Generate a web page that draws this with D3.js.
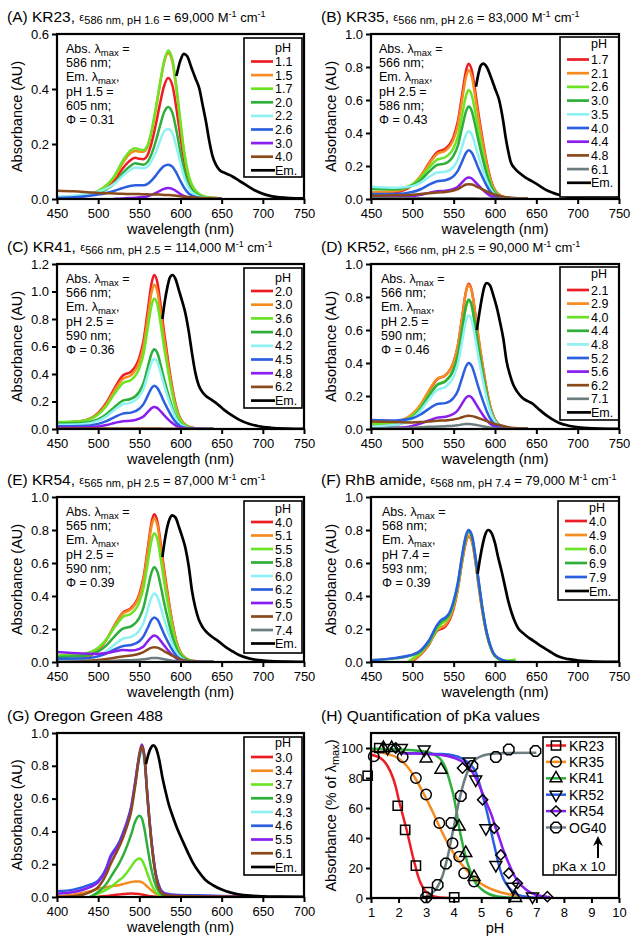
<!DOCTYPE html>
<html><head><meta charset="utf-8">
<script src="https://cdn.jsdelivr.net/npm/d3@7"></script>
<style>body{margin:0;background:#fff;} svg{display:block;font-family:"Liberation Sans",Arial,Helvetica,sans-serif;}</style>
</head><body>
<svg id="c" width="638" height="946"></svg>
<script>
// ---------------- DATA ----------------
const COL = {red:"#ee1d23", orange:"#f68b1f", lime:"#6be426", green:"#2eae3a", cyan:"#8ff1f1", blue:"#2c5fe0", purple:"#8a1ef0", brown:"#8a4a1b", grey:"#6e7e80"};

// (A) KR23
const wlA = [450,470,490,500,510,520,530,540,545,550,555,560,565,570,575,580,585,590,595,600,605,610,620,630,650];
const phA = ["1.1","1.5","1.7","2.0","2.2","2.6","3.0","4.0"];
const colA = ["red","orange","lime","green","cyan","blue","purple","brown"];
const absA = [
 [0.004,0.006,0.014,0.024,0.04,0.068,0.112,0.143,0.15,0.146,0.145,0.16,0.205,0.27,0.345,0.41,0.44,0.415,0.33,0.225,0.13,0.068,0.02,0.006,0.002],
 [0.004,0.007,0.016,0.028,0.047,0.08,0.132,0.168,0.175,0.172,0.172,0.19,0.245,0.325,0.415,0.495,0.53,0.50,0.40,0.27,0.155,0.08,0.024,0.007,0.002],
 [0.005,0.008,0.018,0.03,0.05,0.085,0.14,0.178,0.185,0.18,0.178,0.195,0.25,0.33,0.42,0.50,0.54,0.51,0.41,0.28,0.16,0.085,0.025,0.008,0.002],
 [0.005,0.008,0.015,0.022,0.035,0.058,0.095,0.122,0.13,0.127,0.125,0.135,0.165,0.21,0.265,0.315,0.335,0.315,0.25,0.17,0.1,0.052,0.016,0.005,0.002],
 [0.008,0.012,0.02,0.027,0.038,0.056,0.085,0.108,0.115,0.113,0.112,0.118,0.14,0.17,0.21,0.245,0.255,0.24,0.19,0.13,0.075,0.04,0.012,0.004,0.002],
 [0.004,0.006,0.012,0.016,0.022,0.03,0.04,0.048,0.05,0.05,0.05,0.055,0.068,0.085,0.105,0.12,0.125,0.118,0.095,0.065,0.038,0.02,0.006,0.002,0.001],
 [null,null,null,null,null,0.001,0.002,0.004,0.005,0.006,0.007,0.01,0.015,0.022,0.03,0.037,0.04,0.037,0.028,0.018,0.01,0.005,0.002,0.001,0],
 [0.03,0.028,0.024,0.022,0.021,0.02,0.019,0.018,0.018,0.018,0.017,0.017,0.016,0.016,0.016,0.015,0.015,0.014,0.012,0.01,0.008,0.007,0.005,0.003,0.002]
];
const emWlA = [595,600,604,608,613,618,623,627,631,635,639,643,647,655,663,671,679,690,703,720,750];
const emA = [0.447,0.505,0.528,0.52,0.48,0.44,0.40,0.34,0.28,0.21,0.155,0.125,0.107,0.093,0.082,0.067,0.052,0.032,0.016,0.006,0.002];

// shared wavelength grid for KR35, KR41, KR52, KR54
const wlKR = [450,480,500,510,520,530,540,550,555,560,565,568,572,576,580,585,590,595,600,610,620,640];

// (B) KR35
const phB = ["1.7","2.1","2.6","3.0","3.5","4.0","4.4","4.8","6.1"];
const colB = ["red","orange","lime","green","cyan","blue","purple","brown","grey"];
const absB = [
 [0.03,0.040,0.084,0.138,0.217,0.284,0.305,0.380,0.469,0.624,0.779,0.82,0.779,0.656,0.517,0.361,0.221,0.115,0.053,0.012,0.003,0],
 [0.04,0.048,0.086,0.137,0.211,0.273,0.293,0.363,0.447,0.594,0.741,0.78,0.741,0.624,0.491,0.343,0.211,0.109,0.051,0.012,0.003,0],
 [0.06,0.061,0.089,0.129,0.189,0.239,0.253,0.310,0.379,0.504,0.627,0.66,0.627,0.528,0.416,0.290,0.178,0.092,0.043,0.010,0.003,0],
 [0.06,0.059,0.081,0.114,0.164,0.206,0.216,0.264,0.322,0.428,0.532,0.56,0.532,0.448,0.353,0.246,0.151,0.078,0.036,0.008,0.002,0],
 [0.075,0.068,0.078,0.099,0.133,0.160,0.165,0.196,0.238,0.314,0.390,0.41,0.390,0.328,0.258,0.180,0.111,0.057,0.027,0.006,0.002,0],
 [0.03,0.030,0.042,0.059,0.086,0.108,0.114,0.139,0.170,0.224,0.280,0.295,0.280,0.236,0.186,0.130,0.080,0.041,0.019,0.004,0.001,0],
 [0.01,0.011,0.016,0.025,0.037,0.047,0.050,0.061,0.074,0.099,0.124,0.13,0.124,0.104,0.082,0.057,0.035,0.018,0.008,0.002,0.001,0],
 [0.02,0.022,0.026,0.03,0.035,0.04,0.043,0.052,0.06,0.075,0.088,0.09,0.088,0.08,0.07,0.058,0.046,0.035,0.026,0.014,0.008,0.003],
 [0.005,0.004,0.004,0.004,0.004,0.004,0.004,0.004,0.004,0.004,0.004,0.004,0.004,0.004,0.003,0.003,0.003,0.002,0.002,0.001,0.001,0]
];
const emWlB = [577,580,583,586,590,595,600,605,610,613,616,619,624,629,637,645,653,661,669,677,689,701,720,750];
const emB = [0.68,0.76,0.81,0.82,0.80,0.74,0.67,0.60,0.47,0.37,0.29,0.225,0.185,0.16,0.13,0.107,0.083,0.057,0.04,0.026,0.014,0.006,0.002,0.001];

// (C) KR41
const phC = ["2.0","3.0","3.6","4.0","4.2","4.5","4.8","6.2"];
const colC = ["red","orange","lime","green","cyan","blue","purple","brown"];
const absC = [
 [0.045,0.058,0.117,0.191,0.298,0.389,0.418,0.520,0.640,0.852,1.064,1.12,1.064,0.896,0.706,0.493,0.302,0.157,0.073,0.017,0.004,0],
 [0.045,0.057,0.111,0.180,0.281,0.365,0.392,0.488,0.601,0.799,0.998,1.05,0.998,0.84,0.662,0.462,0.284,0.147,0.068,0.016,0.004,0],
 [0.05,0.059,0.106,0.168,0.258,0.333,0.357,0.442,0.544,0.724,0.903,0.95,0.903,0.76,0.599,0.418,0.257,0.133,0.062,0.014,0.004,0],
 [0.04,0.044,0.070,0.107,0.161,0.206,0.220,0.271,0.333,0.442,0.551,0.58,0.551,0.464,0.365,0.255,0.157,0.081,0.038,0.009,0.002,0],
 [0.03,0.034,0.059,0.092,0.140,0.180,0.192,0.238,0.292,0.389,0.485,0.51,0.485,0.408,0.321,0.224,0.138,0.071,0.033,0.008,0.002,0],
 [0.02,0.022,0.037,0.057,0.087,0.112,0.119,0.147,0.181,0.239,0.299,0.315,0.299,0.252,0.198,0.139,0.085,0.044,0.020,0.005,0.001,0],
 [0.01,0.011,0.019,0.029,0.044,0.057,0.060,0.075,0.091,0.122,0.152,0.16,0.152,0.128,0.101,0.070,0.043,0.022,0.010,0.002,0.001,0],
 [0.004,0.003,0.003,0.003,0.003,0.003,0.003,0.003,0.003,0.003,0.003,0.003,0.003,0.003,0.002,0.002,0.002,0.002,0.001,0.001,0,0]
];
const emWlC = [578,581,584,587,590,594,598,602,606,610,614,618,622,627,631,637,643,649,655,663,671,683,695,710,730,750];
const emC = [0.80,0.93,1.03,1.10,1.12,1.09,1.01,0.93,0.84,0.71,0.55,0.41,0.32,0.265,0.24,0.215,0.19,0.16,0.13,0.097,0.068,0.038,0.02,0.009,0.003,0.001];

// (D) KR52
const phD = ["2.1","2.9","4.0","4.4","4.8","5.2","5.6","6.2","7.1"];
const colD = ["red","orange","lime","green","cyan","blue","purple","brown","grey"];
const absD = [
 [0.02,0.034,0.082,0.142,0.228,0.301,0.325,0.407,0.503,0.669,0.836,0.88,0.836,0.704,0.554,0.387,0.238,0.123,0.057,0.013,0.004,0],
 [0.035,0.046,0.091,0.149,0.233,0.304,0.326,0.406,0.501,0.666,0.831,0.875,0.831,0.70,0.551,0.385,0.236,0.123,0.057,0.013,0.004,0],
 [0.03,0.040,0.080,0.132,0.207,0.270,0.291,0.362,0.446,0.594,0.741,0.78,0.741,0.624,0.491,0.343,0.211,0.109,0.051,0.012,0.003,0],
 [0.01,0.024,0.069,0.123,0.200,0.266,0.289,0.362,0.447,0.597,0.746,0.785,0.746,0.628,0.495,0.345,0.212,0.110,0.051,0.012,0.003,0],
 [0.015,0.026,0.064,0.111,0.179,0.236,0.255,0.319,0.393,0.524,0.656,0.69,0.656,0.552,0.435,0.304,0.186,0.097,0.045,0.010,0.003,0],
 [0.055,0.052,0.065,0.088,0.122,0.151,0.157,0.190,0.231,0.306,0.38,0.40,0.38,0.32,0.252,0.176,0.108,0.056,0.026,0.006,0.002,0],
 [0.005,0.008,0.019,0.033,0.052,0.069,0.074,0.092,0.114,0.152,0.19,0.20,0.19,0.16,0.126,0.088,0.054,0.028,0.013,0.003,0.001,0],
 [0.045,0.042,0.04,0.042,0.046,0.05,0.052,0.058,0.063,0.071,0.078,0.08,0.078,0.073,0.066,0.057,0.048,0.039,0.031,0.018,0.008,0.002],
 [0.005,0.006,0.008,0.01,0.013,0.015,0.017,0.02,0.023,0.027,0.03,0.03,0.029,0.026,0.022,0.017,0.012,0.008,0.005,0.002,0.001,0]
];
const emWlD = [578,581,584,587,590,594,598,602,606,610,614,618,622,627,633,639,645,653,661,669,677,689,701,720,750];
const emD = [0.60,0.70,0.79,0.86,0.885,0.87,0.81,0.74,0.65,0.55,0.41,0.33,0.27,0.225,0.19,0.17,0.155,0.12,0.087,0.06,0.038,0.02,0.01,0.004,0.001];

// (E) KR54
const phE = ["4.0","5.1","5.5","5.8","6.0","6.2","6.5","7.0","7.4"];
const colE = ["red","orange","lime","green","cyan","blue","purple","brown","grey"];
const absE = [
 [0,0.018,0.072,0.134,0.224,0.30,0.327,0.412,0.510,0.680,0.850,0.895,0.850,0.716,0.564,0.394,0.242,0.125,0.058,0.013,0.004,0],
 [0.01,0.025,0.076,0.136,0.222,0.294,0.320,0.401,0.496,0.661,0.827,0.87,0.827,0.696,0.548,0.383,0.235,0.122,0.057,0.013,0.003,0],
 [0.04,0.048,0.086,0.137,0.211,0.273,0.293,0.363,0.447,0.594,0.741,0.78,0.741,0.624,0.491,0.343,0.211,0.109,0.051,0.012,0.003,0],
 [0.03,0.036,0.064,0.101,0.156,0.202,0.216,0.268,0.330,0.438,0.546,0.575,0.546,0.46,0.362,0.253,0.155,0.081,0.037,0.009,0.002,0],
 [0.005,0.012,0.036,0.065,0.106,0.141,0.152,0.191,0.237,0.315,0.394,0.415,0.394,0.332,0.261,0.183,0.112,0.058,0.027,0.006,0.002,0],
 [0.02,0.021,0.034,0.051,0.076,0.096,0.103,0.126,0.155,0.205,0.257,0.27,0.257,0.216,0.170,0.119,0.073,0.038,0.018,0.004,0.001,0],
 [0.06,0.051,0.049,0.054,0.064,0.072,0.070,0.080,0.094,0.124,0.152,0.16,0.152,0.128,0.101,0.070,0.043,0.022,0.010,0.004,0.002,0],
 [0,0.005,0.012,0.018,0.026,0.034,0.040,0.05,0.06,0.075,0.087,0.09,0.087,0.078,0.066,0.052,0.038,0.026,0.016,0.006,0.002,0],
 [0,0.001,0.003,0.005,0.007,0.01,0.011,0.014,0.016,0.02,0.024,0.025,0.024,0.021,0.017,0.012,0.008,0.005,0.003,0.001,0,0]
];
const emWlE = [578,581,584,587,590,594,598,602,606,610,614,618,622,627,633,639,645,655,663,671,683,695,710,730,750];
const emE = [0.636,0.74,0.82,0.87,0.889,0.875,0.82,0.76,0.69,0.58,0.43,0.33,0.26,0.21,0.175,0.15,0.13,0.09,0.065,0.042,0.022,0.011,0.005,0.002,0.001];

// (F) RhB amide
const wlF = [450,480,495,500,510,520,530,535,540,545,550,555,560,565,568,572,576,580,585,590,595,600,610,620,625];
const phF = ["4.0","4.9","6.0","6.9","7.9"];
const colF = ["red","orange","lime","green","blue"];
const absF = [
 [null,null,null,0.003,0.045,0.105,0.19,0.20,0.215,0.255,0.325,0.44,0.60,0.73,0.76,0.735,0.62,0.47,0.30,0.17,0.085,0.035,0.008,0,null],
 [null,null,null,0.008,0.048,0.11,0.195,0.21,0.225,0.265,0.335,0.445,0.605,0.735,0.765,0.74,0.625,0.475,0.30,0.17,0.085,0.035,0.008,0,null],
 [null,null,0,0.02,0.055,0.115,0.20,0.23,0.25,0.28,0.35,0.46,0.625,0.76,0.79,0.76,0.64,0.49,0.31,0.17,0.085,0.035,0.008,0.01,0.015],
 [0.01,0.022,0.035,0.042,0.065,0.12,0.215,0.245,0.26,0.29,0.36,0.47,0.63,0.76,0.79,0.76,0.645,0.495,0.315,0.175,0.088,0.038,0.01,0.003,0],
 [0.01,0.025,0.038,0.045,0.07,0.13,0.225,0.255,0.27,0.30,0.37,0.48,0.64,0.77,0.80,0.77,0.65,0.50,0.32,0.18,0.09,0.04,0.01,0,0]
];
const emWlF = [579,582,585,588,592,596,600,604,608,612,616,620,624,628,634,640,646,653,661,669,677,689,701,720,750];
const emF = [0.535,0.63,0.71,0.77,0.80,0.78,0.72,0.63,0.55,0.46,0.37,0.30,0.245,0.205,0.175,0.15,0.13,0.105,0.08,0.055,0.033,0.017,0.009,0.003,0.001];

// (G) Oregon Green 488
const wlG = [400,420,440,450,460,465,470,475,480,485,490,495,500,503,506,510,515,520,525,530,540,550,570,600,640];
const phG = ["3.0","3.4","3.7","3.9","4.3","4.6","5.5","6.1"];
const colG = ["red","orange","lime","green","cyan","blue","purple","brown"];
const absG = [
 [null,null,null,0.002,0.006,0.009,0.012,0.015,0.018,0.02,0.021,0.02,0.018,0.015,0.012,0.008,0.004,0.002,0.001,0,0,0,0,0,0],
 [0.005,0.015,0.035,0.05,0.06,0.065,0.068,0.072,0.078,0.085,0.091,0.095,0.094,0.09,0.08,0.062,0.04,0.02,0.008,0.003,0.001,0,0,0,0],
 [null,null,0,0.02,0.045,0.06,0.08,0.10,0.12,0.15,0.185,0.22,0.235,0.225,0.195,0.14,0.075,0.03,0.01,0.005,0.002,0.001,0,0,0],
 [null,null,0,0.03,0.08,0.12,0.16,0.20,0.25,0.31,0.38,0.46,0.495,0.48,0.42,0.30,0.16,0.07,0.025,0.01,0.005,0.003,0.002,0.001,0],
 [0.02,0.03,0.06,0.09,0.16,0.22,0.26,0.31,0.37,0.44,0.53,0.68,0.84,0.88,0.83,0.58,0.31,0.13,0.05,0.02,0.01,0.008,0.006,0.004,0.002],
 [0.035,0.045,0.075,0.10,0.18,0.25,0.29,0.33,0.39,0.46,0.55,0.70,0.86,0.91,0.86,0.60,0.33,0.14,0.055,0.025,0.015,0.012,0.01,0.006,0.002],
 [0.02,0.03,0.06,0.09,0.17,0.24,0.28,0.32,0.38,0.45,0.54,0.70,0.87,0.93,0.87,0.61,0.33,0.14,0.05,0.02,0.01,0.008,0.006,0.005,0.003],
 [0,0.005,0.03,0.06,0.14,0.20,0.25,0.30,0.36,0.43,0.52,0.68,0.86,0.92,0.86,0.60,0.32,0.13,0.04,0.015,0.008,0.006,0.004,0.003,0.002]
];
const emWlG = [508,511,514,517,520,524,528,532,536,540,545,550,555,560,565,572,580,590,600,610,620,635,650,670,700];
const emG = [0.81,0.87,0.91,0.925,0.91,0.84,0.73,0.64,0.56,0.50,0.43,0.37,0.315,0.26,0.21,0.155,0.105,0.07,0.045,0.028,0.017,0.008,0.004,0.002,0.001];

// (H) pKa quantification
const namesH = ["KR23","KR35","KR41","KR52","KR54","OG40"];
const colH = ["red","orange","green","blue","purple","grey"];
const fitX = [
 [1.0,1.2,1.4,1.6,1.8,1.9,2.0,2.1,2.2,2.3,2.4,2.5,2.6,2.7,2.8,3.0,3.2,3.5,3.85],
 [1.0,1.5,2.0,2.3,2.6,2.9,3.2,3.5,3.8,4.1,4.4,4.7,5.0,5.5,6.0,6.5],
 [1.0,1.5,2.0,2.5,3.0,3.3,3.5,3.7,3.9,4.0,4.1,4.2,4.3,4.4,4.6,4.8,5.0,5.3,5.6,6.0,6.3],
 [2.2,2.6,3.0,3.5,4.0,4.3,4.6,4.8,5.0,5.1,5.2,5.3,5.4,5.5,5.6,5.7,5.8,6.0,6.3,6.7,7.1],
 [2.1,2.6,3.0,3.5,4.0,4.3,4.6,4.8,5.0,5.2,5.4,5.5,5.6,5.8,6.0,6.2,6.4,6.6,6.8,7.0,7.3,7.5],
 [3.0,3.2,3.4,3.6,3.8,4.0,4.2,4.4,4.6,4.8,5.0,5.5,6.0,7.0]
];
const fitY = [
 [95.5,94.5,92.5,88,80,74,66,59,52,45,37,29,22,15,10,4,1.5,0.3,0],
 [98,96.5,93,88,80,70,59,47,36,27,20,14,9.5,5,2.5,1.2],
 [99.5,99.3,99,98.5,97.5,95.5,93,87,75,68,58,47,38,30,18,10,6,2.5,1,0.3,0.1],
 [96.5,96.5,96.3,96,95,93,89,84,72,65,58,50,41,33,25,18,13,7,2.5,0.7,0.2],
 [96.5,96.3,96,95.5,93.5,91,86,80,72,63,54,48,43,32,23,15,9.5,6,3.5,2,1,0.5],
 [1,3,7,15,29,47,65,79,88,92.5,94.5,96.3,96.7,96.8]
];
const ptX = [
 [0.88,1.3,1.97,2.24,2.63,3.05,4.02],
 [1.1,2.15,2.63,3.0,3.48,3.96,4.2,4.38,4.74],
 [1.45,1.75,3.0,3.54,4.2,4.44,4.74,6.25],
 [1.6,2.1,2.93,4.56,4.8,5.17,5.53,6.13,6.86],
 [1.9,4.32,5.05,5.47,5.71,6.0,6.31,7.4],
 [3.0,3.42,3.72,3.92,4.26,4.68,5.53,6.0,6.97]
];
const ptY = [
 [81.5,100,61.5,45.4,21.6,4,0.5],
 [94.4,94,80,69,50,36.5,27.6,16.5,11],
 [100,100,93,85.5,47.6,30,14,0],
 [100,100,99,91,79,46.5,22,7.5,1],
 [100,86.6,65.5,46.5,28.7,16.5,9.8,0.9],
 [0.4,8.7,23,50,68,88,94,99,98]
];

// ---------------- DRAW ----------------
const svg = d3.select("#c");
const FONT_TICK = 13;
const FONT_LEG = 12.5;

function styleAxis(g){
  g.select(".domain").remove();
  g.selectAll(".tick line").attr("stroke","#000").attr("stroke-width",2);
  g.selectAll(".tick text").attr("font-size",FONT_TICK).attr("fill","#000").attr("font-family","Liberation Sans, Arial, sans-serif");
}

function drawTitle(x, y, main, sub, val){
  const t = svg.append("text").attr("x",x).attr("y",y).attr("font-size",15.5).attr("fill","#000");
  t.append("tspan").text(main);
  if (sub){
    t.append("tspan").attr("font-size",11).attr("dy",-1).text("\u03B5");
    t.append("tspan").attr("font-size",11).attr("dy",3).text(sub);
    t.append("tspan").attr("font-size",13).attr("dy",-2).text(" = "+val+" M");
    t.append("tspan").attr("font-size",9).attr("dy",-5).text("-1");
    t.append("tspan").attr("font-size",13).attr("dy",5).text(" cm");
    t.append("tspan").attr("font-size",9).attr("dy",-5).text("-1");
  }
}

function richText(t, str, size){
  const parts = str.split("_max");
  if (parts.length > 1){
    t.append("tspan").text(parts[0]);
    t.append("tspan").attr("font-size",size*0.76).attr("dy",2.5).text("max");
    t.append("tspan").attr("dy",-2.5).text(parts[1]);
  } else t.text(str);
}

function frame(g, x, y){
  const [x0,x1] = x.range(), [y1,y0] = y.range();
  g.append("rect").attr("x",x0).attr("y",y0).attr("width",x1-x0).attr("height",y1-y0)
    .attr("fill","none").attr("stroke","#000").attr("stroke-width",2.2);
}

let clipId = 0;
function panel(cfg){
  const g = svg.append("g");
  const x = d3.scaleLinear().domain(cfg.xd).range(cfg.xr);
  const y = d3.scaleLinear().domain(cfg.yd).range([cfg.yr[1], cfg.yr[0]]);
  const id = "clip"+(clipId++);
  g.append("clipPath").attr("id",id).append("rect")
    .attr("x",cfg.xr[0]).attr("y",cfg.yr[0]).attr("width",cfg.xr[1]-cfg.xr[0]).attr("height",cfg.yr[1]-cfg.yr[0]);

  const ax = g.append("g").attr("transform",`translate(0,${cfg.yr[1]})`)
    .call(d3.axisBottom(x).tickValues(cfg.xt).tickSize(5).tickPadding(4.5).tickFormat(d3.format("d")));
  styleAxis(ax);
  const ay = g.append("g").attr("transform",`translate(${cfg.xr[0]},0)`)
    .call(d3.axisLeft(y).tickValues(cfg.yt).tickSize(5).tickPadding(3).tickFormat(d3.format(cfg.yf)));
  styleAxis(ay);

  g.append("text").attr("x",(cfg.xr[0]+cfg.xr[1])/2).attr("y",cfg.yr[1]+34.5)
    .attr("text-anchor","middle").attr("font-size",14.5).text(cfg.xlabel);
  const yt = g.append("text").attr("transform",`translate(${cfg.ytx},${(cfg.yr[0]+cfg.yr[1])/2}) rotate(-90)`)
    .attr("text-anchor","middle").attr("font-size",14.5);
  richText(yt, cfg.ylabel, 14.5);

  drawTitle(cfg.tx, cfg.ty, cfg.title[0], cfg.title[1], cfg.title[2]);

  const plot = g.append("g").attr("clip-path",`url(#${id})`);
  if (cfg.spectra){
    const line = d3.line().defined(d=>d[1]!=null).x(d=>x(d[0])).y(d=>y(d[1])).curve(d3.curveMonotoneX);
    cfg.abs.forEach((vals,i)=>{
      const pts = cfg.wl.map((w,j)=>[w, vals[j]]);
      plot.append("path").attr("d",line(pts)).attr("fill","none")
        .attr("stroke",COL[cfg.cols[i]]).attr("stroke-width",2.5).attr("stroke-linejoin","round");
    });
    const epts = cfg.emWl.map((w,j)=>[w, cfg.em[j]]);
    plot.append("path").attr("d",line(epts)).attr("fill","none").attr("stroke","#000").attr("stroke-width",2.7);

    if (cfg.annot){
      cfg.annot.forEach((ln,i)=>{
        const t = g.append("text").attr("x",cfg.ax).attr("y",cfg.yr[0]+19+i*14.2).attr("font-size",12.5);
        richText(t, ln, 12.5);
      });
    }
    const L = cfg.leg;
    g.append("rect").attr("x",L.x).attr("y",L.y).attr("width",L.w).attr("height",L.h)
      .attr("fill","#fff").attr("stroke","#000").attr("stroke-width",1.6);
    g.append("text").attr("x",L.x+31).attr("y",L.hy+3.5).attr("font-size",FONT_LEG).text("pH");
    const items = cfg.ph.map((p,i)=>({label:p, color:COL[cfg.cols[i]]})).concat([{label:"Em.", color:"#000"}]);
    items.forEach((it,i)=>{
      const cy = L.fy + i*L.st;
      g.append("line").attr("x1",L.x+7).attr("x2",L.x+(it.label==="Em."?31:29)).attr("y1",cy).attr("y2",cy)
        .attr("stroke",it.color).attr("stroke-width",2.7);
      g.append("text").attr("x",L.x+31).attr("y",cy+4.5).attr("font-size",FONT_LEG).text(it.label);
    });
  }
  cfg.g = g; cfg.x = x; cfg.y = y; cfg.plot = plot;
  return cfg;
}

const colL = [57,304], colR = [371,619];
const annotText = {
  A:["Abs. \u03BB_max =","586 nm;","Em. \u03BB_max,","pH 1.5 =","605 nm;","\u03A6 = 0.31"],
  B:["Abs. \u03BB_max =","566 nm;","Em. \u03BB_max,","pH 2.5 =","586 nm;","\u03A6 = 0.43"],
  C:["Abs. \u03BB_max =","566 nm;","Em. \u03BB_max,","pH 2.5 =","590 nm;","\u03A6 = 0.36"],
  D:["Abs. \u03BB_max =","566 nm;","Em. \u03BB_max,","pH 2.5 =","590 nm;","\u03A6 = 0.46"],
  E:["Abs. \u03BB_max =","565 nm;","Em. \u03BB_max,","pH 2.5 =","590 nm;","\u03A6 = 0.39"],
  F:["Abs. \u03BB_max =","568 nm;","Em. \u03BB_max,","pH 7.4 =","593 nm;","\u03A6 = 0.39"]
};
const xt450 = [450,500,550,600,650,700,750];
const y10 = [0,0.2,0.4,0.6,0.8,1.0];
const base = {spectra:true, xd:[450,750], xt:xt450, yd:[0,1], yt:y10, yf:".1f", xlabel:"wavelength (nm)", ylabel:"Absorbance (AU)"};

const panels = [
 Object.assign({}, base, {xr:colL, yr:[34,199], yd:[0,0.6], yt:[0,0.2,0.4,0.6], ytx:22, tx:7, ty:22,
   title:["(A) KR23, ","586 nm, pH 1.6","69,000"], wl:wlA, abs:absA, ph:phA, cols:colA, emWl:emWlA, em:emA,
   annot:annotText.A, ax:66, leg:{x:244,y:38,w:58,h:139,hy:48.5,fy:61.5,st:13.6}}),
 Object.assign({}, base, {xr:colR, yr:[34,199], ytx:336, tx:321, ty:22,
   title:["(B) KR35, ","566 nm, pH 2.6","83,000"], wl:wlKR, abs:absB, ph:phB, cols:colB, emWl:emWlB, em:emB,
   annot:annotText.B, ax:379, leg:{x:560,y:37,w:59,h:160,hy:44,fy:59.5,st:13.7}}),
 Object.assign({}, base, {xr:colL, yr:[264,429], yd:[0,1.2], yt:[0,0.2,0.4,0.6,0.8,1.0,1.2], ytx:22, tx:7, ty:252,
   title:["(C) KR41, ","566 nm, pH 2.5","114,000"], wl:wlKR, abs:absC, ph:phC, cols:colC, emWl:emWlC, em:emC,
   annot:annotText.C, ax:66, leg:{x:244,y:268,w:58,h:140,hy:278,fy:291,st:13.7}}),
 Object.assign({}, base, {xr:colR, yr:[264,429], ytx:336, tx:321, ty:252,
   title:["(D) KR52, ","566 nm, pH 2.5","90,000"], wl:wlKR, abs:absD, ph:phD, cols:colD, emWl:emWlD, em:emD,
   annot:annotText.D, ax:381, leg:{x:560,y:267,w:59,h:153,hy:274,fy:290,st:13.6}}),
 Object.assign({}, base, {xr:colL, yr:[497,662], ytx:22, tx:7, ty:485,
   title:["(E) KR54, ","565 nm, pH 2.5","87,000"], wl:wlKR, abs:absE, ph:phE, cols:colE, emWl:emWlE, em:emE,
   annot:annotText.E, ax:66, leg:{x:244,y:501,w:58,h:152,hy:509,fy:522,st:13.5}}),
 Object.assign({}, base, {xr:colR, yr:[497,662], ytx:336, tx:321, ty:485,
   title:["(F) RhB amide, ","568 nm, pH 7.4","79,000"], wl:wlF, abs:absF, ph:phF, cols:colF, emWl:emWlF, em:emF,
   annot:annotText.F, ax:382, leg:{x:558,y:501,w:61,h:99,hy:508,fy:521,st:14}}),
 Object.assign({}, base, {xr:colL, yr:[733,897], xd:[400,700], xt:[400,450,500,550,600,650,700], ytx:22, tx:7, ty:721,
   title:["(G) Oregon Green 488"], wl:wlG, abs:absG, ph:phG, cols:colG, emWl:emWlG, em:emG,
   annot:null, leg:{x:244,y:737,w:58,h:138,hy:743,fy:757,st:13.75}})
];
panels.forEach(p=>{ panel(p); frame(p.g, p.x, p.y); });

// ---- Panel H ----
const H = panel({spectra:false, xr:colR, yr:[733,898], xd:[1,10], xt:d3.range(1,11), yd:[0,110], yt:[0,20,40,60,80,100], yf:"d",
  xlabel:"pH", ylabel:"Absorbance (% of \u03BB_max)", ytx:336, tx:321, ty:721, title:["(H) Quantification of pKa values"]});
const hx = H.x, hy = H.y;
const fitLine = d3.line().x(d=>hx(d[0])).y(d=>hy(d[1])).curve(d3.curveMonotoneX);
fitX.forEach((xs,i)=>{
  H.g.append("path").attr("d",fitLine(xs.map((v,j)=>[v,fitY[i][j]]))).attr("fill","none")
    .attr("stroke",COL[colH[i]]).attr("stroke-width",2.5);
});
function octagon(r){
  const p = d3.path();
  for (let k=0;k<8;k++){
    const a = Math.PI/8 + k*Math.PI/4;
    const px = r*Math.cos(a), py = r*Math.sin(a);
    if (k===0) p.moveTo(px,py); else p.lineTo(px,py);
  }
  p.closePath(); return p.toString();
}
const markerPath = [
  d3.symbol().type(d3.symbolSquare).size(85)(),
  d3.symbol().type(d3.symbolCircle).size(85)(),
  d3.symbol().type(d3.symbolTriangle).size(62)(),
  d3.symbol().type(d3.symbolTriangle).size(62)(),
  d3.symbol().type(d3.symbolSquare).size(52)(),
  octagon(5.6)
];
const markerRot = [0,0,0,180,45,0];
function marker(g, i, cx, cy){
  g.append("path").attr("d",markerPath[i])
    .attr("transform",`translate(${cx},${cy}) rotate(${markerRot[i]})`)
    .attr("fill","none").attr("stroke","#000").attr("stroke-width",1.5);
}
ptX.forEach((xs,i)=>{
  xs.forEach((v,j)=> marker(H.g, i, hx(v), hy(ptY[i][j])));
});
frame(H.g, hx, hy);
const LH = {x:543, y:737, w:73, h:138, fy:745.5, st:16.4};
H.g.append("rect").attr("x",LH.x).attr("y",LH.y).attr("width",LH.w).attr("height",LH.h)
  .attr("fill","#fff").attr("stroke","#000").attr("stroke-width",1.6);
namesH.forEach((nm,i)=>{
  const cy = LH.fy + i*LH.st;
  H.g.append("line").attr("x1",LH.x+3).attr("x2",LH.x+23).attr("y1",cy).attr("y2",cy)
    .attr("stroke",COL[colH[i]]).attr("stroke-width",2.5);
  marker(H.g, i, LH.x+13, cy);
  H.g.append("text").attr("x",LH.x+26).attr("y",cy+5).attr("font-size",14).text(nm);
});
H.g.append("line").attr("x1",598).attr("x2",598).attr("y1",858).attr("y2",843).attr("stroke","#000").attr("stroke-width",2);
H.g.append("path").attr("d","M598,836 L593,846 L598,843 L603,846 Z").attr("fill","#000");
H.g.append("text").attr("x",579).attr("y",871).attr("text-anchor","middle").attr("font-size",13.5).text("pKa x 10");
</script>
</body></html>
